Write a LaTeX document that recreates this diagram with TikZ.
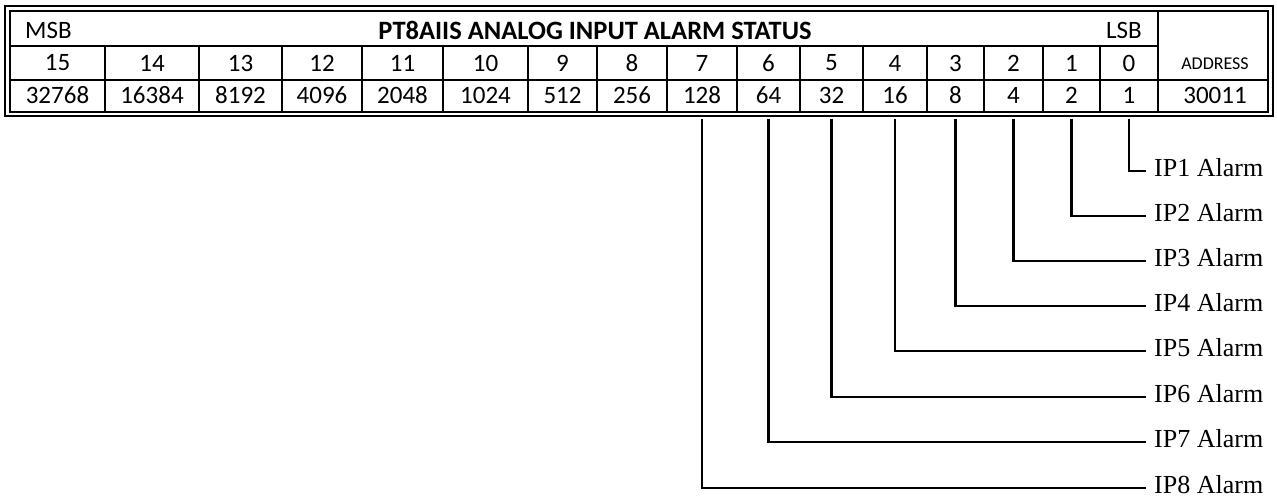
\documentclass[tikz,border=0pt]{standalone}
\usepackage{fontspec}
\setmainfont{Carlito}
\newfontfamily\serifface{Liberation Serif}
\begin{document}
\begin{tikzpicture}[x=1pt,y=-1pt,
  gridline/.style={line width=2.8pt},
  cell/.style={inner sep=0pt, font=\fontsize{25}{25}\selectfont},
  lbl/.style={anchor=west, inner xsep=8pt, inner ysep=0pt, font=\serifface\fontsize{26}{26}\selectfont},
  wire/.style={line width=2.9pt, line join=miter}]
\useasboundingbox (0,0) rectangle (1277,501);
% double border
\draw[line width=2pt] (5,6) rectangle (1273,116);
\draw[gridline] (10,11) rectangle (1268,112);
% horizontal grid lines
\draw[gridline] (10,46) -- (1158,46);
\draw[gridline] (10,80) -- (1268,80);
\draw[gridline] (1158,11) -- (1158,112);
% cells
\foreach \l/\r/\b/\v in {10/105/15/32768,105/199/14/16384,199/282/13/8192,282/362/12/4096,362/443/11/2048,443/528/10/1024,528/597/9/512,597/667/8/256,667/737/7/128,737/800/6/64,800/863/5/32,863/927/4/16,927/984/3/8,984/1043/2/4,1043/1100/1/2,1100/1158/0/1}{
  \ifnum\b<15 \draw[gridline] (\l,46) -- (\l,112);\fi
  \node[cell] (n\b) at ({(\l+\r)/2},63) {\b};
  \node[cell] (v\b) at ({(\l+\r)/2},95) {\v};
}
\node[cell, anchor=west] (msb) at (25,30) {MSB};
\node[cell, anchor=east] (lsb) at (1142,30) {LSB};
\node[inner sep=0pt, font=\fontsize{26.5}{26.5}\selectfont\bfseries] (title) at (595,30) {PT8AIIS ANALOG INPUT ALARM STATUS};
\node[inner sep=0pt, font=\fontsize{18}{18}\selectfont] (addr) at (1215,64) {ADDRESS};
\node[cell] (addrv) at (1215,95) {30011};
% connectors
\foreach \b/\x/\y/\k in {0/1129/171/1,1/1071.5/216/2,2/1013.5/261/3,3/955.5/306/4,4/895/351/5,5/831.5/397/6,6/768.5/442/7,7/702/488/8}{
  \coordinate (t\b) at (\x,119);
  \node[lbl] (ip\k) at (1146,\y-3) {IP\k{} Alarm};
  \draw[wire] (t\b) |- ([yshift=-3pt]ip\k.west);
}
\end{tikzpicture}
\end{document}
